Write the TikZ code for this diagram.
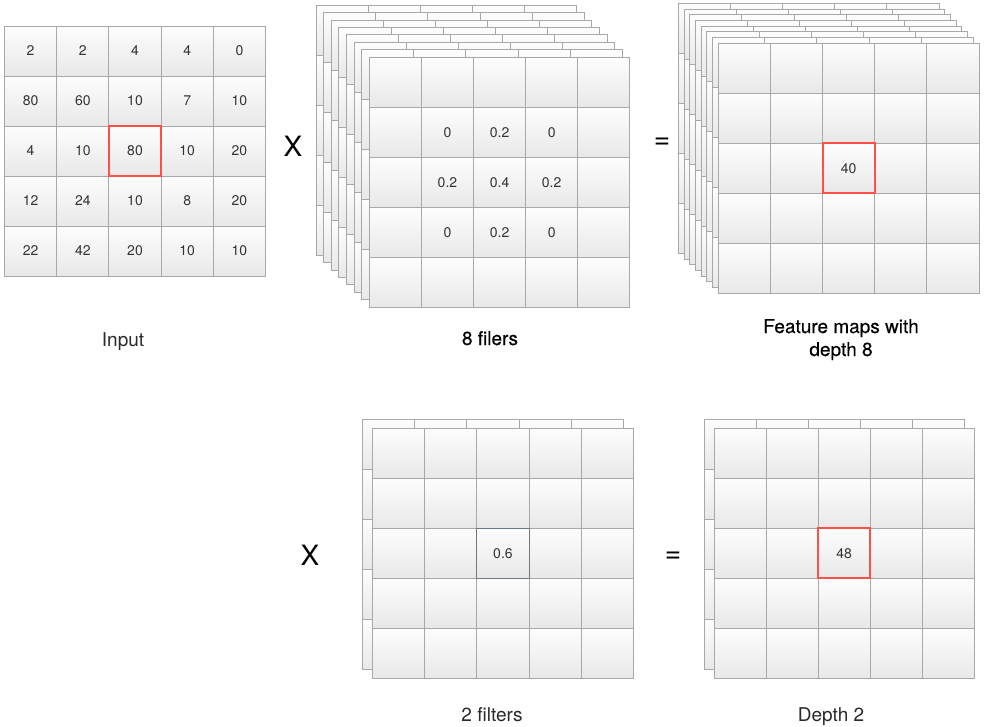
\documentclass[tikz,border=0pt]{standalone}
\usepackage{fontspec}
\setmainfont{TeX Gyre Heros}
\newfontfamily\heavyish[FakeBold=0.4]{TeX Gyre Heros}
\definecolor{gridgray}{HTML}{A8A8A8}
\definecolor{celltop}{HTML}{FDFDFD}
\definecolor{cellbot}{HTML}{E8E8E8}
\definecolor{hired}{HTML}{FF4F47}
\definecolor{numtext}{HTML}{333333}
\definecolor{labtext}{HTML}{2A2A2A}
\definecolor{slate}{HTML}{6E7883}
\tikzset{
  cellstyle/.style={draw=gridgray, line width=1pt, top color=celltop, bottom color=cellbot},
  num/.style={font=\fontsize{14}{16}\selectfont, text=numtext, inner sep=0pt},
  lab/.style={font=\fontsize{19}{23}\selectfont, text=labtext, inner sep=0pt, anchor=base},
  darklab/.style={font=\heavyish\fontsize{19}{23}\selectfont, text=black, inner sep=0pt, anchor=base},
  opsign/.style={font=\fontsize{28}{30}\selectfont, text=black, inner sep=0pt},
  redcell/.style={draw=hired, line width=2pt, inner sep=0pt},
  slatecell/.style={draw=slate, line width=1pt, inner sep=0pt}
}
% one 5x5 layer: x, y (top-left), cell width, cell height
\newcommand\cnnlayer[4]{%
  \foreach \ci in {0,...,4}{\foreach \cj in {0,...,4}{%
    \path[cellstyle] ({#1+\ci*#3},{#2+\cj*#4}) rectangle ++(#3,#4);
  }}}
\begin{document}
\begin{tikzpicture}[x=1pt,y=-1pt]
\useasboundingbox (0,0) rectangle (984,726);
\fill[white] (0,0) rectangle (984,726);

% ---------- Input ----------
\cnnlayer{4.5}{26}{52.2}{50}
\foreach \v [count=\n from 0] in {2,2,4,4,0,80,60,10,7,10,4,10,80,10,20,12,24,10,8,20,22,42,20,10,10}{
  \pgfmathtruncatemacro\cc{mod(\n,5)}
  \pgfmathtruncatemacro\rr{div(\n,5)}
  \node[num] (in-\rr-\cc) at ({4.5+(\cc+0.5)*52.2},{26+(\rr+0.5)*50}) {\v};
}
\node[redcell, minimum width=52.2, minimum height=50] (inbox) at (in-2-2) {};
\node[lab] (inlabel) at (123,346) {Input};

% ---------- 8 filters ----------
\foreach \k in {7,...,0}{\cnnlayer{369.3-\k*7.6}{57.3-\k*7.45}{52.1}{50}}
\foreach \v [count=\n from 0] in {0,0.2,0,0.2,0.4,0.2,0,0.2,0}{
  \pgfmathtruncatemacro\cc{mod(\n,3)+1}
  \pgfmathtruncatemacro\rr{div(\n,3)+1}
  \node[num] (f-\rr-\cc) at ({369.3+(\cc+0.5)*52.1},{57.3+(\rr+0.5)*50}) {\v};
}
\node[darklab] (flabel) at (490,345) {8 filers};
\node[opsign] (times1) at (293,146) {X};

% ---------- Feature maps depth 8 ----------
\foreach \k in {7,...,0}{\cnnlayer{718.3-\k*5.71}{43.3-\k*5.71}{52.15}{50}}
\node[num] (fm40) at ({718.3+2.5*52.15},{43.3+2.5*50}) {40};
\node[redcell, minimum width=52.15, minimum height=50] (fmbox) at (fm40) {};
\node[darklab] (fmlabel1) at (841,333) {Feature maps with};
\node[darklab] (fmlabel2) at (841,356) {depth 8};
\node[opsign] (eq1) at (662,143) {=};

% ---------- 2 filters ----------
\cnnlayer{362.7}{419.3}{52.1}{50}
\cnnlayer{372.7}{428.3}{52.1}{50}
\node[num] (f2val) at ({372.7+2.5*52.1},{428.3+2.5*50}) {0.6};
\node[slatecell, minimum width=52.1, minimum height=50] (f2box) at (f2val) {};
\node[lab] (f2label) at (492,721) {2 filters};
\node[opsign] (times2) at (310,555) {X};

% ---------- Depth 2 ----------
\cnnlayer{704}{419.3}{52.06}{50}
\cnnlayer{714}{428.3}{52.06}{50}
\node[num] (d2val) at ({714+2.5*52.06},{428.3+2.5*50}) {48};
\node[redcell, minimum width=52.06, minimum height=50] (d2box) at (d2val) {};
\node[lab] (d2label) at (831,721) {Depth 2};
\node[opsign] (eq2) at (673,557) {=};
\end{tikzpicture}
\end{document}
